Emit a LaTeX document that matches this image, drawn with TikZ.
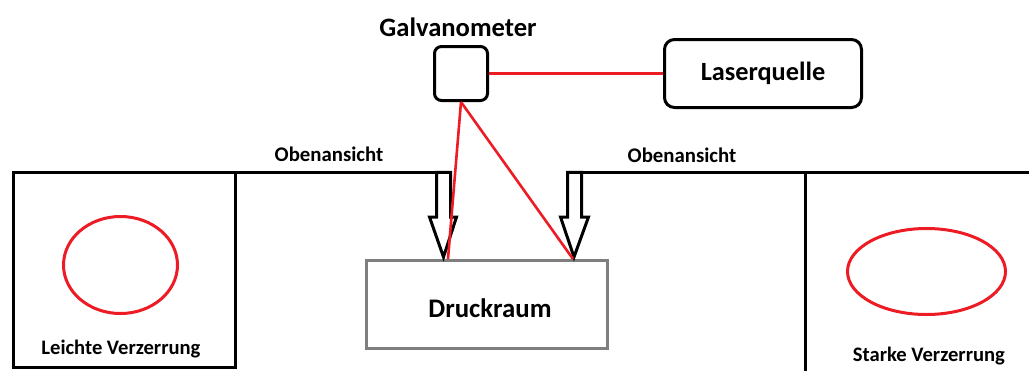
\documentclass[tikz,border=0pt]{standalone}
\usepackage{fontspec}
\setmainfont{Carlito}
\usetikzlibrary{shapes.geometric}
\definecolor{laserred}{RGB}{237,28,36}
\definecolor{chambergray}{RGB}{127,127,127}
\begin{document}
\begin{tikzpicture}[x=1pt,y=-1pt,line join=miter,
  frame/.style={line width=3pt,draw=black},
  beam/.style={line width=2.6pt,draw=laserred},
  blockarrow/.style={line width=3pt,draw=black,fill=white},
  device/.style={draw=black,line width=3pt,inner sep=0pt},
  spot/.style={ellipse,draw=laserred,line width=3pt,inner sep=0pt},
  lbl/.style={font=\bfseries,inner sep=0pt}]
\useasboundingbox (0,0) rectangle (1029,370);

% devices
\node[device,rounded corners=7pt,minimum width=53pt,minimum height=54pt] (galvo) at (461,73.5) {};
\node[device,rounded corners=10pt,minimum width=197pt,minimum height=68pt,font=\bfseries\fontsize{26.3}{30}\selectfont] (laser) at (763,73.5) {Laserquelle};
\node[draw=chambergray,line width=3pt,minimum width=241pt,minimum height=88pt,inner sep=0pt] (chamber) at (487,304.5) {};
\node[lbl,font=\bfseries\fontsize{26.8}{30}\selectfont] (chambertxt) at (490,308) {Druckraum};
\node[lbl,font=\bfseries\fontsize{26.6}{30}\selectfont] (galvotxt) at (458,27) {Galvanometer};

% view frames
\coordinate (topL) at (443.5,172.3);
\coordinate (topR) at (573.5,172.3);
\draw[frame] (topL) -- (13.4,172.3) -- (13.4,367.5) -- (235,367.5) -- (235,172.3);
\draw[frame] (topR) -- (1035,172.3);
\draw[frame] (805,172.3) -- (805,375);

% view arrows
\draw[blockarrow] (436.5,172.3) -- (450.5,172.3) -- (450.5,217) -- (456.5,217) -- (443.5,257) -- (429.5,217) -- (436.5,217) -- cycle;
\draw[blockarrow] (567.5,172.3) -- (581.5,172.3) -- (581.5,217) -- (588.5,217) -- (574,257) -- (560.5,217) -- (567.5,217) -- cycle;

% beams
\coordinate (hitL) at (448,259);
\coordinate (hitR) at (573,259);
\draw[beam] (galvo.east) -- (laser.west);
\draw[beam] (galvo.south) -- (hitL);
\draw[beam] (galvo.south) -- (hitR);

% labels
\node[lbl,font=\bfseries\fontsize{20.8}{24}\selectfont] (viewL) at (329,154) {Obenansicht};
\node[lbl,font=\bfseries\fontsize{20.8}{24}\selectfont] (viewR) at (682,155) {Obenansicht};

% distorted spots
\node[spot,minimum width=114pt,minimum height=97pt] (spotL) at (120.5,265) {};
\node[spot,minimum width=158pt,minimum height=86pt] (spotR) at (926.5,271.5) {};
\node[lbl,font=\bfseries\fontsize{20.6}{24}\selectfont] (distL) at (121,349) {Leichte Verzerrung};
\node[lbl,font=\bfseries\fontsize{20.6}{24}\selectfont] (distR) at (929,356) {Starke Verzerrung};
\end{tikzpicture}
\end{document}
